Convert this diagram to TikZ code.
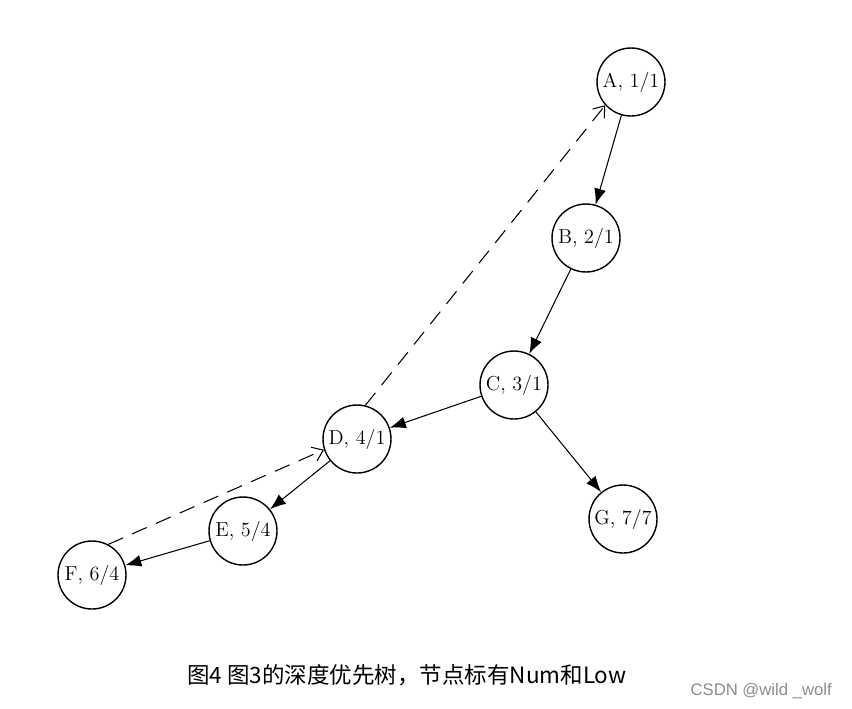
\documentclass[tikz,border=0pt]{standalone}
\usepackage{fontspec}
\newfontfamily\cjk{Noto Sans CJK SC}
\newfontfamily\wmfont{Liberation Sans}
\usepackage{tikz}
\usetikzlibrary{arrows.meta}
\tikzstyle{vtx}=[circle, draw, thick, minimum size=1.36cm, inner sep=0pt, font=\fontsize{11.5}{13}\selectfont]
\tikzset{tree/.style={-{Latex[length=3.2mm,width=2.4mm]}, semithick},
  back/.style={-{Straight Barb[length=2mm,width=3mm]}, dash pattern=on 3.2mm off 2mm, semithick}}

\begin{document}
\begin{tikzpicture}[x=0.02cm, y=-0.02cm]
		\useasboundingbox (0,0) rectangle (852,708);
		\node[vtx] (a) at (631,82) {A, 1/1};
		\node[vtx] (b) at (586,238) {B, 2/1};
		\node[vtx] (c) at (514,385) {C, 3/1};
		\node[vtx] (d) at (357,439) {D, 4/1};
		\node[vtx] (e) at (243,531) {E, 5/4};
		\node[vtx] (f) at (92,575) {F, 6/4};
		\node[vtx] (g) at (623,519) {G, 7/7};
		\draw[tree] (a) to (b);
		\draw[tree] (b) to (c);
		\draw[tree] (c) to (d);
		\draw[tree] (c) to (g);
		\draw[tree] (d) to (e);
		\draw[tree] (e) to (f);
		\draw[back] (d.76) to (a.222);
		\draw[back] (f.62) to (d.198);
		\node (cap) at (407,675) {\cjk\fontsize{12.8}{15}\selectfont 图4 图3的深度优先树，节点标有Num和Low};
		\node[text=black!45, anchor=east] (wm) at (838,691) {\wmfont\fontsize{9.5}{11}\selectfont CSDN @wild \_wolf};
		\end{tikzpicture}
\end{document}
